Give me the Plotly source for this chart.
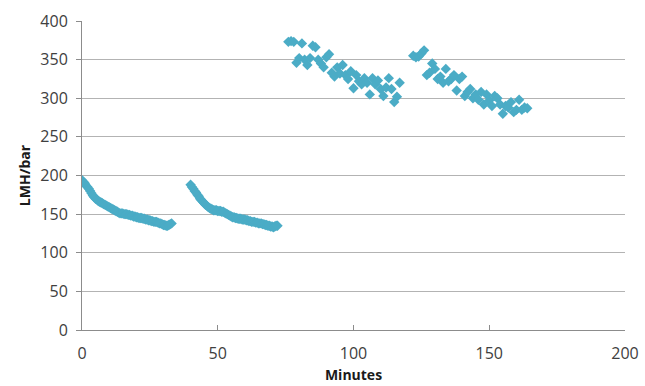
import plotly.graph_objects as go

# Run 1: dense points, 0.5 min spacing
run1_minutes = [i * 0.5 for i in range(0, 67)]
run1_lmh = [194, 192, 190, 187, 185, 183, 180, 177, 174, 172, 170, 169, 167, 166, 165, 164,
            163, 162, 161, 160, 159, 158, 157, 156, 155, 154, 153, 152, 151, 151, 151, 150,
            150, 150, 149, 149, 148, 148, 147, 147, 146, 146, 145, 145, 145, 144, 144, 143,
            143, 142, 142, 141, 141, 140, 140, 140, 139, 138, 138, 137, 136, 136, 135, 135,
            136, 137, 138]

# Run 2
run2_minutes = [40 + i * 0.5 for i in range(0, 65)]
run2_lmh = [188, 185, 183, 180, 178, 175, 173, 170, 168, 166, 164, 162, 161, 159, 158, 157,
            156, 155, 155, 155, 154, 154, 154, 153, 153, 152, 151, 150, 149, 148, 147, 146,
            146, 145, 145, 144, 144, 144, 143, 143, 143, 142, 142, 141, 141, 140, 140, 140,
            139, 139, 138, 138, 138, 137, 137, 136, 136, 135, 135, 134, 134, 133, 134, 135,
            135]

# Run 3
run3_minutes = list(range(76, 118))
run3_lmh = [373, 374, 373, 346, 352, 371, 350, 343, 352, 368, 366, 350, 345, 340, 353, 357,
            333, 328, 340, 332, 343, 330, 325, 335, 313, 330, 322, 318, 326, 320, 305, 326,
            318, 323, 312, 303, 314, 326, 312, 295, 302, 320]

# Run 4
run4_minutes = list(range(122, 165))
run4_lmh = [355, 353, 354, 358, 362, 330, 333, 345, 338, 325, 328, 320, 338, 322, 325, 330,
            310, 325, 328, 303, 308, 312, 300, 305, 298, 308, 292, 305, 297, 290, 303, 300,
            292, 280, 290, 288, 295, 282, 285, 298, 285, 288, 287]

x_all = run1_minutes + run2_minutes + run3_minutes + run4_minutes
y_all = run1_lmh + run2_lmh + run3_lmh + run4_lmh

fig = go.Figure()
fig.add_trace(go.Scatter(
    x=x_all, y=y_all, mode="markers",
    marker=dict(symbol="diamond", size=8, color="#4BACC6", line=dict(width=0)),
    showlegend=False,
))

font_family = "Open Sans, Liberation Sans, sans-serif"
fig.update_layout(
    width=645, height=386,
    margin=dict(l=82, r=20, t=21, b=56),
    paper_bgcolor="white", plot_bgcolor="white",
    font=dict(family=font_family, color="#404040", size=16),
    xaxis=dict(
        range=[0, 200], tickvals=[0, 50, 100, 150, 200],
        showgrid=False, zeroline=False, automargin=False,
        showline=True, linecolor="#8c8c8c", linewidth=1,
        ticks="inside", ticklen=5, tickcolor="#8c8c8c",
        ticklabelstandoff=9,
        title=dict(text="<b>Minutes</b>", font=dict(size=14, color="#1a1a1a"), standoff=6),
        tickfont=dict(size=16, color="#404040"),
    ),
    yaxis=dict(
        range=[0, 400], tickvals=[0, 50, 100, 150, 200, 250, 300, 350, 400],
        showgrid=True, gridcolor="#b3b3b3", gridwidth=1,
        zeroline=False, automargin=False,
        showline=True, linecolor="#8c8c8c", linewidth=1,
        ticks="outside", ticklen=5, tickcolor="#8c8c8c",
        ticklabelstandoff=5,
        title=dict(text="<b>LMH/bar</b>", font=dict(size=14, color="#1a1a1a"), standoff=6),
        tickfont=dict(size=16, color="#404040"),
    ),
)

fig.write_html(
    "out.html",
    config={"displayModeBar": False},
    post_script="document.body.style.margin='0';document.body.style.overflow='hidden';",
)
